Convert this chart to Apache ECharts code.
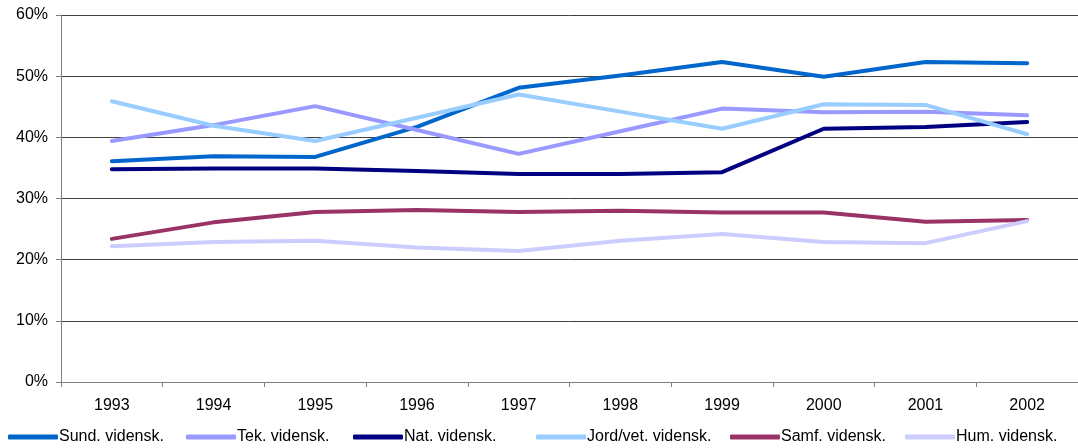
<!DOCTYPE html>
<html>
<head>
<meta charset="utf-8">
<script src="https://cdn.jsdelivr.net/npm/echarts@6/dist/echarts.min.js"></script>
<style>
    html, body { margin: 0; padding: 0; background: #fff; }
    #chart { width: 1078px; height: 448px; }
</style>
</head>
<body>
<div id="chart"></div>
<script>
    // data (percent)
    const years = ['1993', '1994', '1995', '1996', '1997', '1998', '1999', '2000', '2001', '2002']
    const names = ['Sund. vidensk.', 'Tek. vidensk.', 'Nat. vidensk.', 'Jord/vet. vidensk.', 'Samf. vidensk.', 'Hum. vidensk.']
    const sund = [36.1, 36.9, 36.8, 41.7, 48.1, 50.1, 52.3, 49.9, 52.3, 52.1]
    const tek = [39.4, 42.0, 45.1, 41.2, 37.3, 41.0, 44.7, 44.1, 44.2, 43.6]
    const nat = [34.8, 34.9, 34.9, 34.5, 34.0, 34.0, 34.3, 41.4, 41.7, 42.5]
    const jord = [45.9, 41.9, 39.4, 43.2, 47.0, 44.2, 41.4, 45.4, 45.3, 40.5]
    const samf = [23.4, 26.1, 27.8, 28.1, 27.8, 28.0, 27.7, 27.7, 26.2, 26.5]
    const hum = [22.2, 22.9, 23.1, 22.0, 21.4, 23.1, 24.2, 22.9, 22.7, 26.3]
    const yTicks = [0, 10, 20, 30, 40, 50, 60]

    const allValues = [sund, tek, nat, jord, samf, hum]
    const colors = ['#0066CC', '#9999FF', '#000080', '#99CCFF', '#993366', '#CCCCFF']
    const legendLeft = [8, 186, 353, 536, 730, 905]

    const font = 'Liberation Sans, Arial, sans-serif'
    const myChart = echarts.init(document.getElementById('chart'))

    const series = names.map((name, i) => ({
        name: name,
        type: 'line',
        data: allValues[i],
        symbol: 'none',
        smooth: false,
        lineStyle: { width: 4, color: colors[i], cap: 'round', join: 'round' },
        itemStyle: { color: colors[i] }
    }))

    const legends = names.map((name, i) => ({
        data: [name],
        left: legendLeft[i],
        top: 429,
        icon: 'roundRect',
        itemWidth: 50,
        itemHeight: 5,
        itemGap: 0,
        padding: 0,
        textStyle: { fontFamily: font, fontSize: 16, color: '#000', padding: [0, 0, 0, -4] }
    }))

    myChart.setOption({
        animation: false,
        textStyle: { fontFamily: font },
        legend: legends,
        grid: {
            left: 61,
            top: 15,
            width: 1021,
            height: 367
        },
        xAxis: {
            type: 'category',
            boundaryGap: true,
            data: years,
            axisLine: { lineStyle: { color: '#808080', width: 1 } },
            axisTick: { show: true, length: 5, lineStyle: { color: '#808080' } },
            axisLabel: { color: '#000', fontSize: 16, fontFamily: font, margin: 16 }
        },
        yAxis: {
            type: 'value',
            min: yTicks[0],
            max: yTicks[yTicks.length - 1],
            interval: 10,
            axisLine: { show: true, lineStyle: { color: '#808080', width: 1 } },
            axisTick: { show: true, length: 5, lineStyle: { color: '#808080' } },
            axisLabel: { formatter: '{value}%', color: '#000', fontSize: 16, fontFamily: font, margin: 13 },
            splitLine: { show: true, lineStyle: { color: '#404040', width: 1 } }
        },
        series: series
    })
</script>
</body>
</html>
